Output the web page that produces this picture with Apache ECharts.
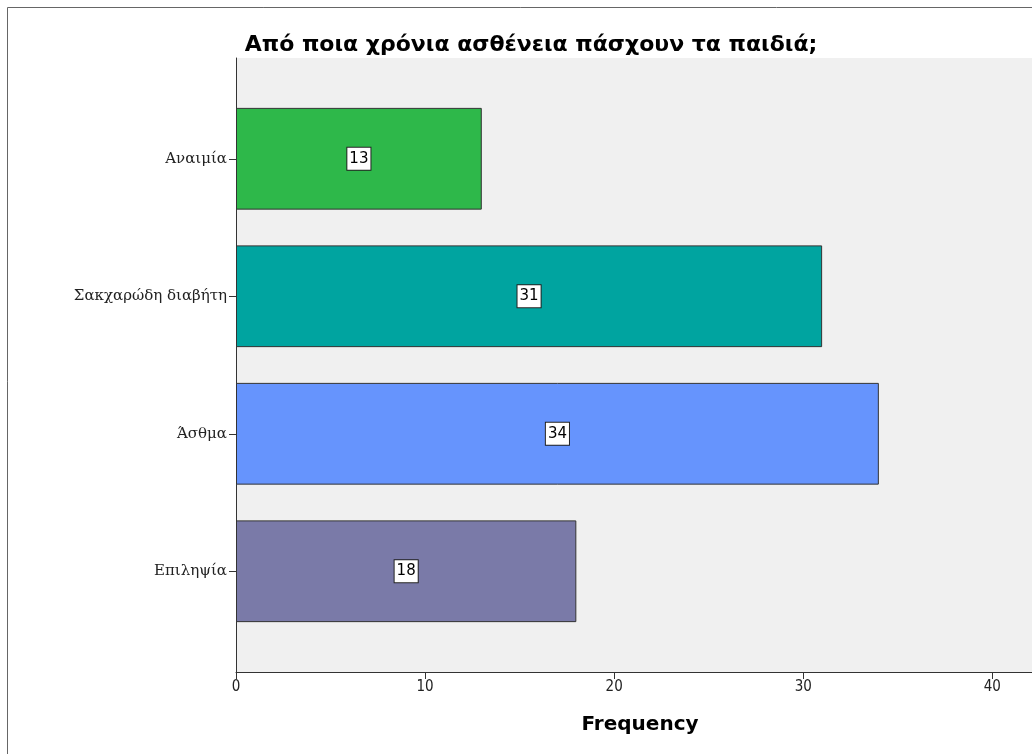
<!DOCTYPE html>
<html lang="el">
<head>
    <meta charset="UTF-8">
    <title>chart</title>
    <style>html,body{margin:0;padding:0;background:#fff;}</style>
</head>
<body>
<div id="chart" style="width: 1032px;height: 754px"></div>
<script src="https://cdn.jsdelivr.net/npm/echarts@6/dist/echarts.min.js"></script>
<script>
    const categories = ['Αναιμία', 'Σακχαρώδη διαβήτη', 'Άσθμα', 'Επιληψία']
    const values = [13, 31, 34, 18]
    const barColors = ['#2eb84a', '#00a4a0', '#6694fd', '#7a7aa8']
    const xTicks = [0, 10, 20, 30, 40]
    const xMax = 42.1

    const chart = echarts.init(document.getElementById('chart'))
    chart.setOption({
        backgroundColor: '#fff',
        animation: false,
        title: [
            {
                text: 'Από ποια χρόνια ασθένεια πάσχουν τα παιδιά;',
                left: 526, top: 29, textAlign: 'center',
                textStyle: {fontFamily: 'DejaVu Sans', fontWeight: 'bold', fontSize: 22, color: '#000'}
            },
            {
                text: 'Frequency',
                left: 635, top: 710, textAlign: 'center',
                textStyle: {fontFamily: 'DejaVu Sans', fontWeight: 'bold', fontSize: 20, color: '#000'}
            }
        ],
        graphic: [
            {
                type: 'rect', z: -10, silent: true,
                shape: {x: 7.5, y: 7.5, width: 1040, height: 760},
                style: {fill: 'none', stroke: '#666', lineWidth: 1}
            }
        ],
        grid: [
            {left: 236, right: 0, top: 58, bottom: 82, show: true, backgroundColor: '#f0f0f0', borderWidth: 0},
            {left: 236, right: 0, top: 90, bottom: 114}
        ],
        xAxis: [
            {
                gridIndex: 0, type: 'value', min: 0, max: xMax,
                axisLine: {show: true, lineStyle: {color: '#333'}},
                axisTick: {show: true, customValues: xTicks, length: 7, inside: false, lineStyle: {color: '#333'}},
                axisLabel: {customValues: xTicks, fontFamily: 'DejaVu Sans Condensed', fontSize: 15, color: '#222', margin: 8},
                splitLine: {show: false}
            },
            {
                gridIndex: 1, type: 'value', min: 0, max: xMax, show: false
            }
        ],
        yAxis: [
            {
                gridIndex: 0, type: 'value', min: 0, max: 1,
                axisLine: {show: true, lineStyle: {color: '#333'}},
                axisTick: {show: false}, axisLabel: {show: false}, splitLine: {show: false}
            },
            {
                gridIndex: 1, type: 'category', data: categories, inverse: true,
                axisLine: {show: false},
                axisTick: {show: true, alignWithLabel: true, length: 7, lineStyle: {color: '#333'}},
                axisLabel: {fontFamily: 'DejaVu Serif', fontSize: 15, color: '#222', margin: 9}
            }
        ],
        series: [
            {
                type: 'bar', xAxisIndex: 1, yAxisIndex: 1,
                barCategoryGap: '26%',
                data: values.map((v, i) => ({value: v, itemStyle: {color: barColors[i]}})),
                itemStyle: {borderColor: '#333', borderWidth: 1},
                label: {
                    show: true, position: 'inside',
                    fontFamily: 'DejaVu Sans', fontSize: 15, color: '#000',
                    backgroundColor: '#fff', borderColor: '#222', borderWidth: 1,
                    padding: [4, 2, 3, 2]
                }
            }
        ]
    })
</script>
</body>
</html>
